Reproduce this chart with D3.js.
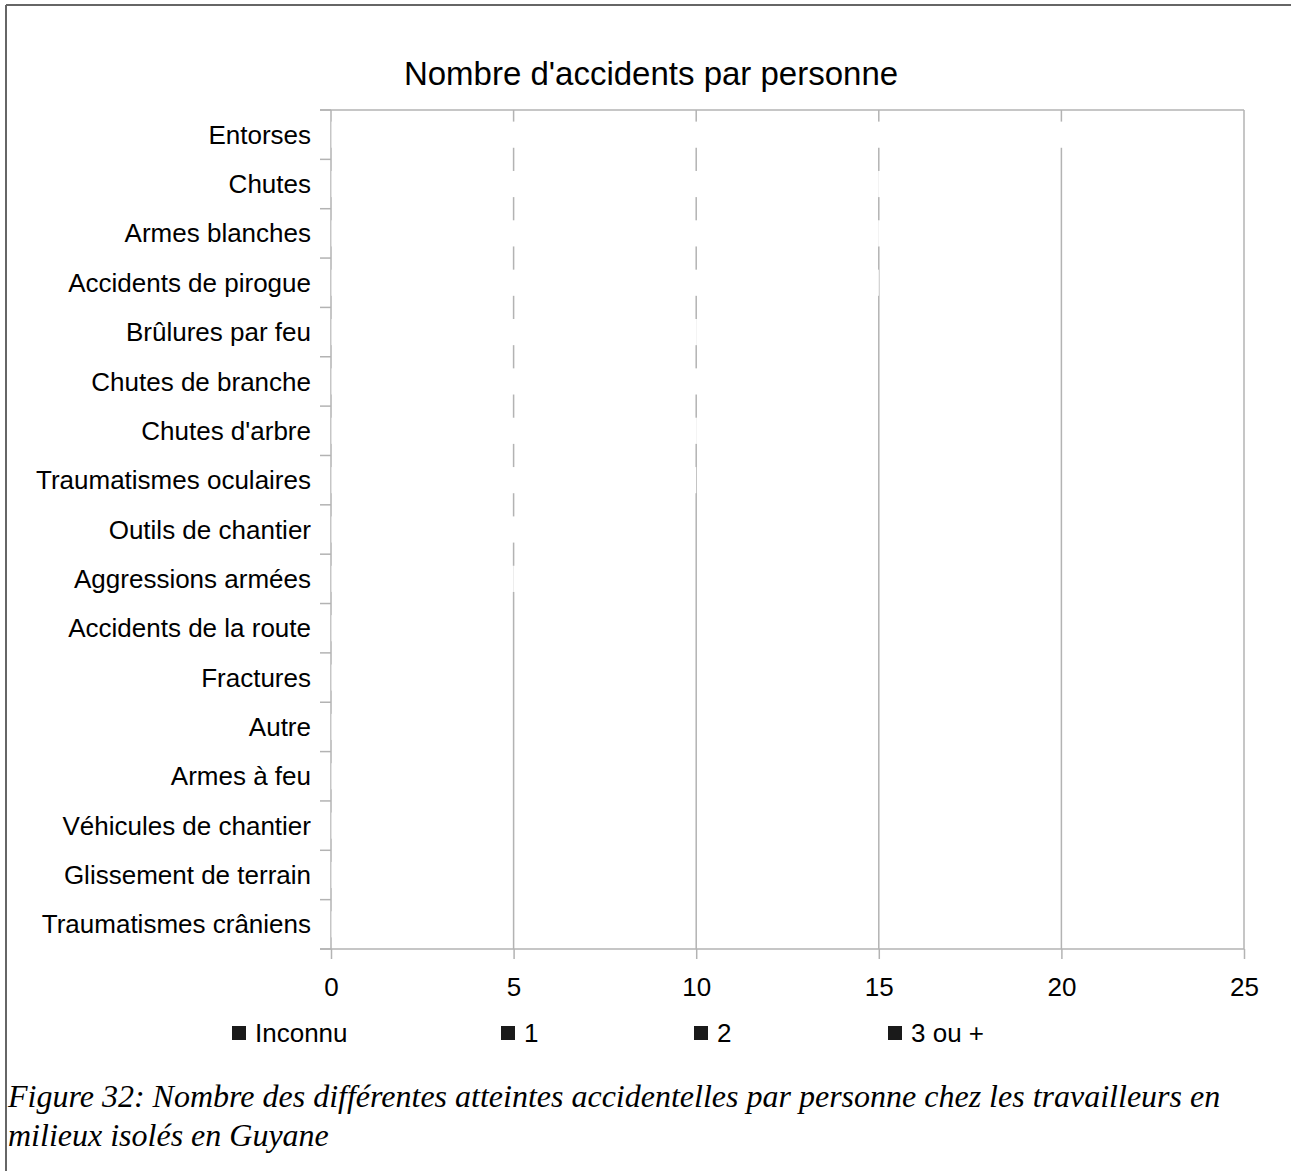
<!DOCTYPE html>
<html>
<head>
<meta charset="utf-8">
<script src="https://cdn.jsdelivr.net/npm/d3@7"></script>
<style>
  html, body { margin: 0; padding: 0; background: #fff; }
  svg { display: block; }
</style>
</head>
<body>
<svg id="chart" width="1291" height="1171"></svg>
<script>
const categories = [
  "Entorses", "Chutes", "Armes blanches", "Accidents de pirogue", "Brûlures par feu",
  "Chutes de branche", "Chutes d'arbre", "Traumatismes oculaires", "Outils de chantier",
  "Aggressions armées", "Accidents de la route", "Fractures", "Autre", "Armes à feu",
  "Véhicules de chantier", "Glissement de terrain", "Traumatismes crâniens"
];
const seriesNames = ["Inconnu", "1", "2", "3 ou +"];
const inconnu = [2, 1, 1, 1, 1, 1, 1, 1, 1, 0, 0, 0, 1, 0, 0, 0, 0];
const un      = [11, 10, 11, 10, 9, 8, 8, 7, 5, 5, 3, 4, 2, 3, 2, 1, 1];
const deux    = [5, 4, 3, 3, 2, 2, 1, 1, 1, 1, 1, 0, 0, 0, 0, 0, 0];
const troisPlus = [4, 3, 2, 1, 1, 1, 1, 1, 1, 0, 0, 0, 0, 0, 0, 0, 0];
const xTicks = [0, 5, 10, 15, 20, 25];
const title = "Nombre d'accidents par personne";
const captionLines = [
  "Figure 32: Nombre des différentes atteintes accidentelles par personne chez les travailleurs en",
  "milieux isolés en Guyane"
];

(function () {
const seriesValues = [inconnu, un, deux, troisPlus];
const table = categories.map((c, i) => {
  const row = { cat: c };
  seriesNames.forEach((s, j) => row[s] = seriesValues[j][i]);
  return row;
});

const svg = d3.select("#chart");
const sans = "'Liberation Sans', Arial, sans-serif";
const grid = "#b3b3b3";

// outer border (top and left)
svg.append("line").attr("x1", 6).attr("x2", 1291).attr("y1", 5).attr("y2", 5)
  .attr("stroke", "#666").attr("stroke-width", 2);
svg.append("line").attr("x1", 6).attr("x2", 6).attr("y1", 5).attr("y2", 1171)
  .attr("stroke", "#666").attr("stroke-width", 2);

const pL = 331, pR = 1244, pT = 110, pB = 949;
const x = d3.scaleLinear().domain([0, 25]).range([pL, pR]);
const y = d3.scaleBand().domain(categories).range([pT, pB]).paddingInner(0.47).paddingOuter(0.235);
const yb = d3.scaleBand().domain(categories).range([pT, pB]);

// title
svg.append("text").attr("x", 651).attr("y", 85).attr("text-anchor", "middle")
  .attr("font-family", sans).attr("font-size", 33).attr("fill", "#000").text(title);

// gridlines
svg.append("g").selectAll("line").data(xTicks.filter(t => t > 0)).join("line")
  .attr("x1", d => x(d)).attr("x2", d => x(d)).attr("y1", pT).attr("y2", pB)
  .attr("stroke", grid).attr("stroke-width", 1.5);
// top frame line
svg.append("line").attr("x1", 320).attr("x2", pR).attr("y1", pT).attr("y2", pT)
  .attr("stroke", grid).attr("stroke-width", 1.5);

// x axis
const xAxis = d3.axisBottom(x).tickValues(xTicks).tickSize(10).tickPadding(19).tickSizeOuter(0);
const gx = svg.append("g").attr("transform", `translate(0,${pB})`).call(xAxis);
gx.select(".domain").remove();
gx.append("line").attr("x1", 320).attr("x2", pR).attr("y1", 0).attr("y2", 0)
  .attr("stroke", grid).attr("stroke-width", 1.5);
gx.selectAll(".tick line").attr("stroke", grid).attr("stroke-width", 1.5);
gx.selectAll(".tick text").attr("font-family", sans).attr("font-size", 26).attr("fill", "#000");

// y axis line and band-boundary ticks
svg.append("line").attr("x1", pL).attr("x2", pL).attr("y1", pT).attr("y2", pB)
  .attr("stroke", grid).attr("stroke-width", 1.5);
const bounds = categories.map(c => yb(c)).concat([pB]);
svg.append("g").selectAll("line").data(bounds).join("line")
  .attr("x1", 320).attr("x2", pL).attr("y1", d => d).attr("y2", d => d)
  .attr("stroke", grid).attr("stroke-width", 1.5);

// category labels
svg.append("g").selectAll("text").data(categories).join("text")
  .attr("x", 311).attr("y", d => yb(d) + yb.bandwidth() / 2)
  .attr("dy", "0.35em").attr("text-anchor", "end")
  .attr("font-family", sans).attr("font-size", 26).attr("fill", "#000").text(d => d);

// stacked bars (white)
const stack = d3.stack().keys(seriesNames)(table);
svg.append("g").selectAll("g").data(stack).join("g")
  .attr("fill", "#ffffff")
  .selectAll("rect").data(d => d).join("rect")
  .attr("x", d => x(d[0]) + (d[0] === 0 ? 0.5 : 0))
  .attr("width", d => Math.max(0, x(d[1]) - x(d[0]) - (d[0] === 0 ? 0.5 : 0)))
  .attr("y", d => y(d.data.cat))
  .attr("height", y.bandwidth());

// legend
const legendX = [232, 501, 694, 888];
const lg = svg.append("g").selectAll("g").data(seriesNames).join("g")
  .attr("transform", (d, i) => `translate(${legendX[i]},1026)`);
lg.append("rect").attr("width", 14).attr("height", 14).attr("fill", "#1a1a1a");
lg.append("text").attr("x", 23).attr("y", 7).attr("dy", "0.35em")
  .attr("font-family", sans).attr("font-size", 26).attr("fill", "#000").text(d => d);

// caption
svg.append("g").selectAll("text").data(captionLines).join("text")
  .attr("x", 8).attr("y", (d, i) => 1107 + i * 39)
  .attr("font-family", "'Liberation Serif', 'Times New Roman', serif")
  .attr("font-style", "italic").attr("font-size", 32).attr("fill", "#000").text(d => d);
})();
</script>
</body>
</html>
